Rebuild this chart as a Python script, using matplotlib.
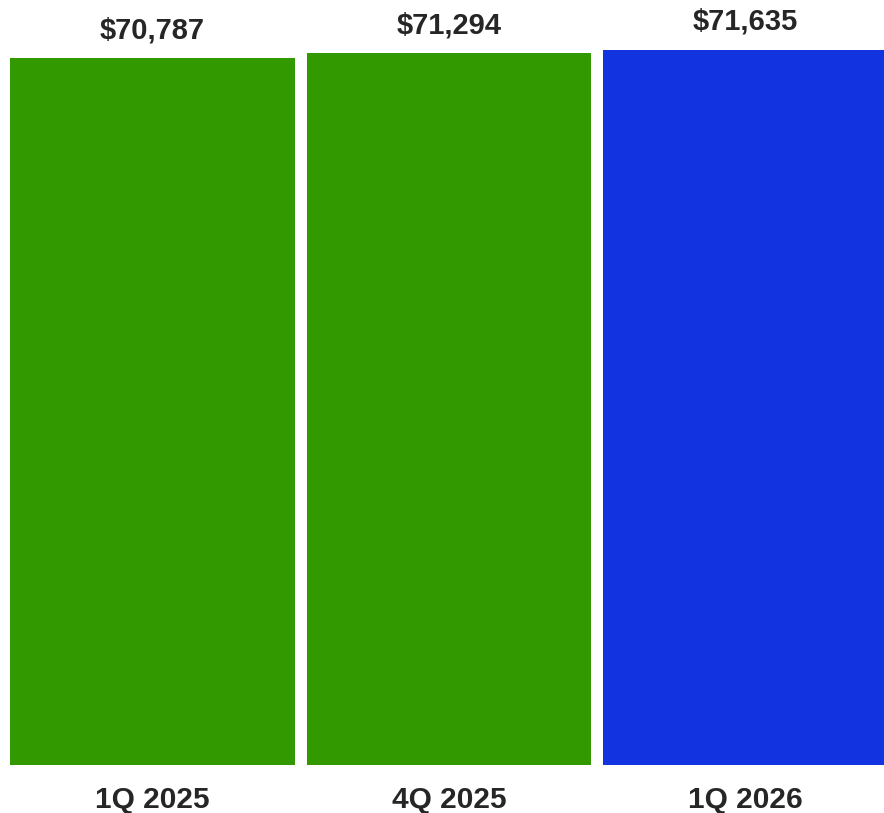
import matplotlib
matplotlib.use("Agg")
import matplotlib.pyplot as plt

quarters = ["1Q 2025", "4Q 2025", "1Q 2026"]
values = [70787, 71294, 71635]
colors = ["#339900", "#339900", "#1133E0"]

plt.rcParams['font.family'] = ['Liberation Sans', 'DejaVu Sans']

fig = plt.figure(figsize=(8.84, 8.13), dpi=100)
ax = fig.add_axes([10 / 884, 1 - 765 / 813, 874 / 884, 765 / 813])

x = range(len(values))
ax.bar(x, values, width=0.961, color=colors)

for xi, v in zip(x, values):
    ax.annotate("${:,}".format(v), (xi, v), xytext=(0, 14.4), textcoords="offset points",
                ha="center", va="baseline", fontsize=21, fontweight="bold", color="#262626")

ax.set_xlim(-0.4805, -0.4805 + 874 / 296.5)
ax.set_ylim(0, 76615)
ax.set_xticks(list(x))
ax.set_xticklabels(quarters, fontsize=21.5, fontweight="bold", color="#262626")
ax.tick_params(axis="x", length=0, pad=15)
ax.set_yticks([])
for s in ax.spines.values():
    s.set_visible(False)

fig.savefig("out.png", dpi=100)
